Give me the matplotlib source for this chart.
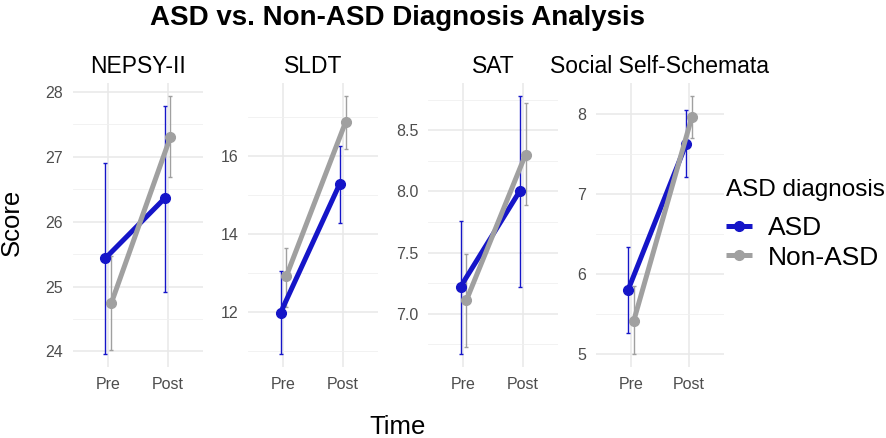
import numpy as np
import matplotlib
matplotlib.use("Agg")
import matplotlib.pyplot as plt

plt.rcParams['font.family'] = ['Liberation Sans', 'DejaVu Sans']

# facets, groups and time points
measures = ['NEPSY-II', 'SLDT', 'SAT', 'Social Self-Schemata']
groups = ['ASD', 'Non-ASD']
times = ['Pre', 'Post']

# means (pre, post)
asd_mean = [[25.44, 26.36], [11.97, 15.28], [7.22, 8.00], [5.80, 7.63]]
non_mean = [[24.75, 27.31], [12.92, 16.87], [7.11, 8.30], [5.42, 7.97]]
# error bar ends (pre, post)
asd_low = [[23.96, 24.92], [10.91, 14.27], [6.67, 7.22], [5.26, 7.22]]
asd_high = [[26.91, 27.79], [13.05, 16.26], [7.76, 8.78], [6.34, 8.05]]
non_low = [[24.02, 26.69], [12.13, 16.18], [6.73, 7.89], [5.00, 7.70]]
non_high = [[25.47, 27.94], [13.64, 17.55], [7.49, 8.72], [5.85, 8.23]]

# major y ticks per facet
yticks = [[24, 25, 26, 27, 28], [12, 14, 16], [7.0, 7.5, 8.0, 8.5], [5, 6, 7, 8]]
ytick_fmt = ['{:.0f}', '{:.0f}', '{:.1f}', '{:.0f}']

colors = {'ASD': '#1515C8', 'Non-ASD': '#A0A0A0'}

W, H = 886, 438
fig = plt.figure(figsize=(W / 100, H / 100), dpi=100)

# panel pixel extents (left, right)
panels = [(73, 203), (248, 378), (428, 558), (596, 724)]
top, bottom = 83, 367

handles = []
for i, m in enumerate(measures):
    x0, x1 = panels[i]
    ax = fig.add_axes([x0 / W, 1 - bottom / H, (x1 - x0) / W, (bottom - top) / H])
    xs = np.arange(len(times)) + 1
    data = [(asd_mean[i], asd_low[i], asd_high[i]), (non_mean[i], non_low[i], non_high[i])]
    for g, (mean, lo, hi), off in zip(groups, data, [-0.05, 0.05]):
        mean = np.array(mean); lo = np.array(lo); hi = np.array(hi)
        ax.errorbar(xs + off, mean, yerr=[mean - lo, hi - mean], fmt='none',
                    ecolor=colors[g], elinewidth=1.0, capsize=1.2, capthick=1.0, zorder=2)
    for g, (mean, lo, hi), off in zip(groups, data, [-0.05, 0.05]):
        ln, = ax.plot(xs + off, mean, color=colors[g], lw=3.6, marker='o', ms=7,
                      solid_capstyle='butt', zorder=3)
        if i == 0:
            handles.append(ln)

    # y limits: 5% expansion like ggplot
    lo_all = min(min(asd_low[i]), min(non_low[i]))
    hi_all = max(max(asd_high[i]), max(non_high[i]))
    pad = 0.05 * (hi_all - lo_all)
    ax.set_ylim(lo_all - pad, hi_all + pad)
    ax.set_xlim(0.4, 2.6)

    maj = yticks[i]
    step = maj[1] - maj[0]
    minors = [v + step / 2 for v in [maj[0] - step] + maj]
    minors = [v for v in minors if lo_all - pad <= v <= hi_all + pad]
    ax.set_yticks(maj)
    ax.set_yticklabels([ytick_fmt[i].format(v) for v in maj])
    ax.set_yticks(minors, minor=True)
    ax.set_xticks(xs)
    ax.set_xticklabels(times)

    ax.grid(True, which='major', color='#E8E8E8', lw=1.1, zorder=0)
    ax.grid(True, which='minor', axis='y', color='#F0F0F0', lw=0.6, zorder=0)
    ax.set_axisbelow(True)
    for s in ax.spines.values():
        s.set_visible(False)
    ax.tick_params(which='both', length=0, labelsize=11.5, labelcolor='#4D4D4D', pad=7)
    ax.set_title(m, fontsize=16.5, pad=7)

fig.text(398 / W, 1 - 25 / H, 'ASD vs. Non-ASD Diagnosis Analysis', ha='center', va='baseline',
         fontsize=20, fontweight='bold')
fig.text(12 / W, 1 - 222 / H, 'Score', rotation=90, ha='center', va='center', fontsize=18.5)
fig.text(398 / W, 1 - 427 / H, 'Time', ha='center', va='center', fontsize=18.5)

# legend: title as text, entries via fig.legend
fig.text(726 / W, 1 - 190 / H, 'ASD diagnosis', ha='left', va='center', fontsize=17.5)
leg = fig.legend(handles, groups, loc='center left',
                 bbox_to_anchor=(726 / W, 1 - 243 / H), frameon=False, fontsize=19,
                 handlelength=1.0, handletextpad=0.6, borderaxespad=0,
                 labelspacing=0.2, borderpad=0)

fig.savefig('out.png', dpi=100)
